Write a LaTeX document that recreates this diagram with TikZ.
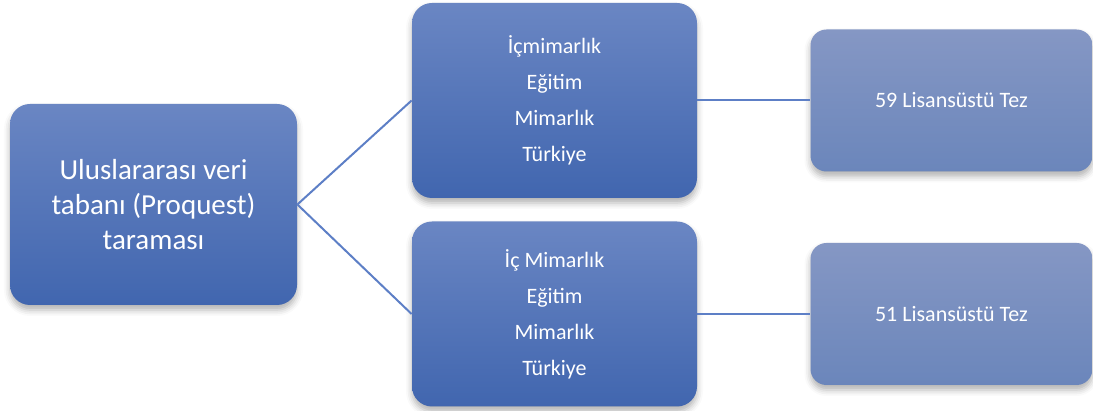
\documentclass[tikz,border=0pt]{standalone}
\usepackage{fontspec}
\setmainfont{Carlito}
\usepackage{tikz}
\usetikzlibrary{shadows.blur}
\definecolor{boxtop}{HTML}{6A86C3}
\definecolor{boxbot}{HTML}{4166AF}
\definecolor{endtop}{HTML}{8597C4}
\definecolor{endbot}{HTML}{6B86BB}
\definecolor{linkblue}{HTML}{5D7FC6}

\begin{document}
\begin{tikzpicture}[x=0.5pt, y=0.5pt,
    box/.style={rounded corners=10pt, top color=boxtop, bottom color=boxbot,
        text=white, align=center, inner sep=0pt,
        blur shadow={shadow xshift=0pt, shadow yshift=-2.5pt, shadow blur radius=3pt, shadow opacity=30}},
    endbox/.style={box, rounded corners=8pt, top color=endtop, bottom color=endbot,
        minimum width=141pt, minimum height=71pt, font=\fontsize{11}{18}\selectfont},
    midbox/.style={box, minimum width=142.5pt, font=\fontsize{11}{18}\selectfont},
    link/.style={draw=linkblue, line width=1pt}]
    \useasboundingbox (0,0) rectangle (1093,411);
    \node[box, minimum width=143.5pt, minimum height=100.5pt,
        font=\fontsize{14.5}{17.5}\selectfont] (A) at (153.5,206.5)
        {Uluslararası veri\\tabanı (Proquest)\\taraması};
    \node[midbox, minimum height=97.5pt] (B) at (554.5,310.5)
        {İçmimarlık\\Eğitim\\Mimarlık\\Türkiye};
    \node[midbox, minimum height=92.5pt] (C) at (554.5,97)
        {İç Mimarlık\\Eğitim\\Mimarlık\\Türkiye};
    \node[endbox] (D) at (951.5,310.5) {59 Lisansüstü Tez};
    \node[endbox] (E) at (951.5,97) {51 Lisansüstü Tez};
    \foreach \s/\t in {A/B, A/C, B/D, C/E}{
    \draw[link] (\s.east)--(\t.west);
    }
\end{tikzpicture}
\end{document}
